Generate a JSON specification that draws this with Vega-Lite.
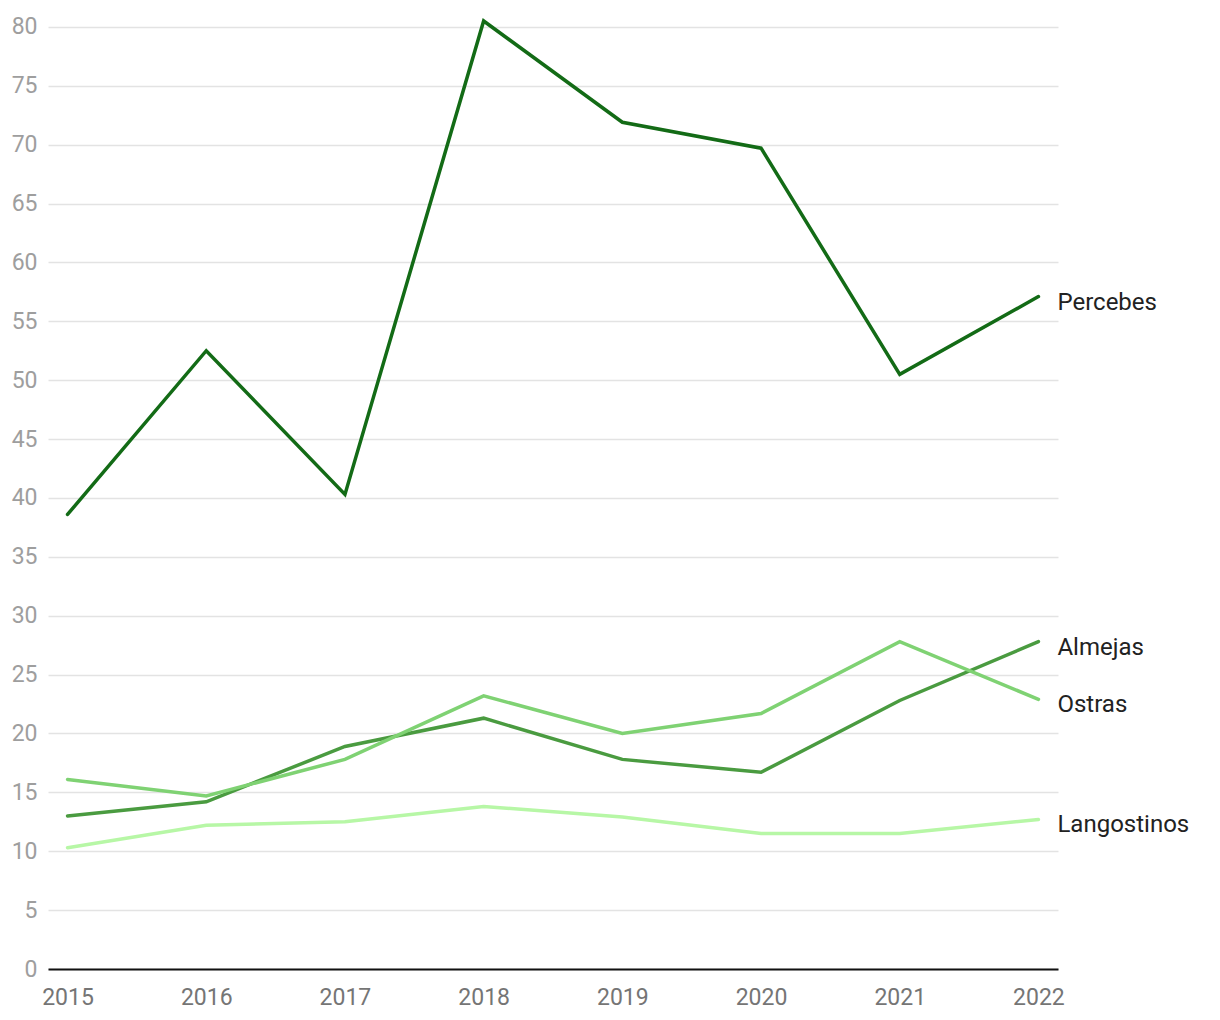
{
  "$schema": "https://vega.github.io/schema/vega-lite/v6.json",
  "width": 1010,
  "height": 948,
  "autosize": {"type": "none"},
  "padding": {"left": 48, "top": 21, "right": 162, "bottom": 51},
  "background": "white",
  "config": {"view": {"stroke": null}, "font": "Roboto"},
  "data": {
    "values": [
      {"year": "2015", "species": "Percebes", "value": 38.6},
      {"year": "2016", "species": "Percebes", "value": 52.5},
      {"year": "2017", "species": "Percebes", "value": 40.3},
      {"year": "2018", "species": "Percebes", "value": 80.5},
      {"year": "2019", "species": "Percebes", "value": 71.9},
      {"year": "2020", "species": "Percebes", "value": 69.7},
      {"year": "2021", "species": "Percebes", "value": 50.5},
      {"year": "2022", "species": "Percebes", "value": 57.1},
      {"year": "2015", "species": "Almejas", "value": 13.0},
      {"year": "2016", "species": "Almejas", "value": 14.2},
      {"year": "2017", "species": "Almejas", "value": 18.9},
      {"year": "2018", "species": "Almejas", "value": 21.3},
      {"year": "2019", "species": "Almejas", "value": 17.8},
      {"year": "2020", "species": "Almejas", "value": 16.7},
      {"year": "2021", "species": "Almejas", "value": 22.8},
      {"year": "2022", "species": "Almejas", "value": 27.8},
      {"year": "2015", "species": "Ostras", "value": 16.1},
      {"year": "2016", "species": "Ostras", "value": 14.7},
      {"year": "2017", "species": "Ostras", "value": 17.8},
      {"year": "2018", "species": "Ostras", "value": 23.2},
      {"year": "2019", "species": "Ostras", "value": 20.0},
      {"year": "2020", "species": "Ostras", "value": 21.7},
      {"year": "2021", "species": "Ostras", "value": 27.8},
      {"year": "2022", "species": "Ostras", "value": 22.9},
      {"year": "2015", "species": "Langostinos", "value": 10.3},
      {"year": "2016", "species": "Langostinos", "value": 12.2},
      {"year": "2017", "species": "Langostinos", "value": 12.5},
      {"year": "2018", "species": "Langostinos", "value": 13.8},
      {"year": "2019", "species": "Langostinos", "value": 12.9},
      {"year": "2020", "species": "Langostinos", "value": 11.5},
      {"year": "2021", "species": "Langostinos", "value": 11.5},
      {"year": "2022", "species": "Langostinos", "value": 12.7}
    ]
  },
  "encoding": {
    "x": {
      "field": "year",
      "type": "ordinal",
      "scale": {"type": "point", "padding": 0.141},
      "axis": {
        "title": null,
        "labelAngle": 0,
        "labelFont": "Roboto",
        "labelFontSize": 23,
        "labelColor": "#757575",
        "labelPadding": 17,
        "ticks": false,
        "domainColor": "#111111",
        "domainWidth": 2,
        "grid": false
      }
    },
    "y": {
      "field": "value",
      "type": "quantitative",
      "scale": {"domain": [0, 80.5], "nice": false, "zero": true},
      "axis": {
        "title": null,
        "values": [0, 5, 10, 15, 20, 25, 30, 35, 40, 45, 50, 55, 60, 65, 70, 75, 80],
        "labelFont": "Roboto",
        "labelFontSize": 23,
        "labelColor": "#9e9e9e",
        "labelPadding": 11,
        "ticks": false,
        "domain": false,
        "grid": true,
        "gridColor": "#e3e3e3",
        "gridWidth": 1.5
      }
    },
    "color": {
      "field": "species",
      "type": "nominal",
      "scale": {
        "domain": ["Percebes", "Almejas", "Ostras", "Langostinos"],
        "range": ["#136b16", "#4a9b40", "#7fd273", "#b7f7a6"]
      },
      "legend": null
    }
  },
  "layer": [
    {
      "mark": {"type": "line", "strokeWidth": 3.5, "strokeCap": "round", "strokeJoin": "miter"}
    },
    {
      "transform": [{"filter": "datum.year == '2022'"}],
      "mark": {
        "type": "text",
        "align": "left",
        "baseline": "middle",
        "dx": 19,
        "dy": 6,
        "font": "Roboto",
        "fontSize": 24,
        "color": "#222222"
      },
      "encoding": {
        "text": {"field": "species"},
        "color": {"value": "#222222"}
      }
    }
  ]
}
